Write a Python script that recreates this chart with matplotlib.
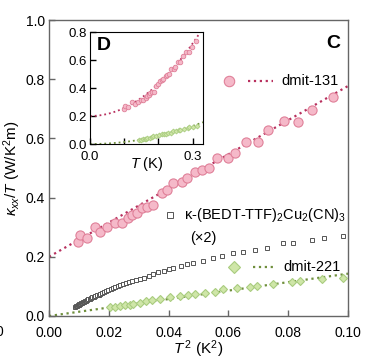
import numpy as np
import matplotlib
matplotlib.use("Agg")
from matplotlib import pyplot as plt

plt.rcParams['font.family'] = ['Liberation Sans', 'DejaVu Sans']
plt.rcParams['mathtext.fontset'] = 'custom'
plt.rcParams['mathtext.rm'] = 'Liberation Sans'
plt.rcParams['mathtext.it'] = 'Liberation Sans:italic'

# dmit-131 (T^2, kappa/T)
x131 = [0.0098, 0.0104, 0.0126, 0.0154, 0.0171, 0.0193, 0.0221, 0.0243, 0.0265,
        0.0277, 0.0293, 0.0310, 0.0327, 0.0349, 0.0377, 0.0394, 0.0416, 0.0444,
        0.0460, 0.0488, 0.0511, 0.0536, 0.0561, 0.0598, 0.0622, 0.0658, 0.0698,
        0.0734, 0.0787, 0.0832, 0.0879, 0.0951]
y131 = [0.251, 0.274, 0.262, 0.302, 0.285, 0.302, 0.313, 0.313, 0.330,
        0.341, 0.347, 0.364, 0.369, 0.375, 0.415, 0.426, 0.448, 0.454,
        0.465, 0.488, 0.493, 0.499, 0.533, 0.533, 0.550, 0.589, 0.589,
        0.628, 0.660, 0.656, 0.696, 0.739]

# kappa-(BEDT-TTF)2Cu2(CN)3, x2
xbedt = [0.0087, 0.0090, 0.0093, 0.0096, 0.0099, 0.0102, 0.0105, 0.0108, 0.0111,
         0.0114, 0.0117, 0.0120, 0.0124, 0.0128, 0.0132, 0.0136, 0.0140, 0.0145,
         0.0150, 0.0155, 0.0160, 0.0166, 0.0172, 0.0178, 0.0185, 0.0192, 0.0199,
         0.0206, 0.0214, 0.0222, 0.0230, 0.0239, 0.0248, 0.0258, 0.0268, 0.0279,
         0.0290, 0.0303, 0.0318, 0.0333, 0.0349, 0.0366, 0.0383, 0.0400, 0.0416,
         0.0440, 0.0460, 0.0483, 0.0516, 0.0550, 0.0577, 0.0617, 0.0650, 0.0689,
         0.0728, 0.0781, 0.0817, 0.0879, 0.0920, 0.0982]
ybedt = [0.031, 0.033, 0.035, 0.036, 0.038, 0.040, 0.041, 0.043, 0.045,
         0.047, 0.048, 0.050, 0.052, 0.054, 0.056, 0.058, 0.060, 0.063,
         0.065, 0.067, 0.070, 0.072, 0.075, 0.078, 0.081, 0.085, 0.088,
         0.092, 0.095, 0.099, 0.102, 0.105, 0.108, 0.112, 0.115, 0.118,
         0.121, 0.125, 0.130, 0.135, 0.142, 0.148, 0.153, 0.158, 0.163,
         0.170, 0.174, 0.180, 0.187, 0.195, 0.203, 0.212, 0.217, 0.223,
         0.231, 0.245, 0.248, 0.257, 0.262, 0.271]

# dmit-221
x221 = [0.0204, 0.0220, 0.0237, 0.0255, 0.0270, 0.0282, 0.0304, 0.0323, 0.0343,
        0.0371, 0.0405, 0.0438, 0.0466, 0.0488, 0.0522, 0.0555, 0.0583, 0.0628,
        0.0672, 0.0695, 0.0750, 0.0812, 0.0839, 0.0912, 0.0984]
y221 = [0.029, 0.031, 0.034, 0.036, 0.038, 0.040, 0.045, 0.049, 0.054,
        0.057, 0.063, 0.068, 0.071, 0.073, 0.077, 0.082, 0.090, 0.094,
        0.097, 0.101, 0.107, 0.116, 0.119, 0.124, 0.129]

# fits kappa/T = a + b T^2
fit131 = (0.20, 5.77)
fit221 = (0.0, 1.43)

pink_face = '#f5b9c9'
pink_edge = '#e08099'
pink_line = '#b8305e'
green_face = '#cfe6a8'
green_edge = '#a9cc7f'
green_line = '#6f8f3c'
spine_gray = '#666666'

fig = plt.figure(figsize=(3.72, 3.63), dpi=100)
ax = fig.add_axes([0.1317, 0.1295, 0.8038, 0.8154])

t2 = np.linspace(0, 0.1, 50)
ax.plot(t2, fit131[0] + fit131[1] * t2, ls=':', lw=1.6, color=pink_line, zorder=2)
ax.plot(t2, fit221[0] + fit221[1] * t2, ls=':', lw=1.6, color=green_line, zorder=2)
ax.plot(x131, y131, 'o', ms=6.6, mfc=pink_face, mec=pink_edge, mew=0.8, zorder=3)
ax.plot(xbedt, ybedt, 's', ms=3.4, mfc='white', mec='#555555', mew=0.7, zorder=3)
ax.plot(x221, y221, 'D', ms=4.2, mfc=green_face, mec=green_edge, mew=0.8, zorder=3)

ax.set_xlim(0, 0.1)
ax.set_ylim(0, 1.0)
ax.set_xticks([0, 0.02, 0.04, 0.06, 0.08, 0.10])
ax.set_xticklabels(['0.00', '0.02', '0.04', '0.06', '0.08', '0.10'])
ax.set_yticks([0, 0.2, 0.4, 0.6, 0.8, 1.0])
ax.set_yticklabels(['0.0', '0.2', '0.4', '0.6', '0.8', '1.0'])
ax.tick_params(direction='in', length=4, width=1, labelsize=10, color=spine_gray, pad=3)
ax.tick_params(axis='x', pad=7.5)
for s in ax.spines.values():
    s.set_color(spine_gray)
    s.set_linewidth(1.0)
ax.set_xlabel(r'$T^{\,2}$ (K$^2$)', fontsize=11, labelpad=-1.5)
ax.set_ylabel(r'$\kappa_{xx}/T$ (W/K$^2$m)', fontsize=11, labelpad=2)

ax.text(0.975, 0.922, 'C', transform=ax.transAxes, fontsize=14, fontweight='bold',
        ha='right', va='center')

# legend entries
ax.plot([0.602], [0.794], 'o', ms=7.5, mfc=pink_face, mec=pink_edge, mew=0.8,
        transform=ax.transAxes, clip_on=False)
ax.plot([0.666, 0.749], [0.794, 0.794], ls=':', lw=1.6, color=pink_line,
        transform=ax.transAxes)
ax.text(0.776, 0.794, 'dmit-131', transform=ax.transAxes, fontsize=10.5, va='center')
ax.plot([0.405], [0.341], 's', ms=5, mfc='white', mec='#555555', mew=0.7,
        transform=ax.transAxes)
ax.text(0.452, 0.341, r'κ-(BEDT-TTF)$_2$Cu$_2$(CN)$_3$', transform=ax.transAxes,
        fontsize=10.5, va='center')
ax.text(0.472, 0.264, '(×2)', transform=ax.transAxes, fontsize=10.5, va='center')
ax.plot([0.619], [0.166], 'D', ms=6, mfc=green_face, mec=green_edge, mew=0.8,
        transform=ax.transAxes)
ax.plot([0.682, 0.756], [0.166, 0.166], ls=':', lw=1.6, color=green_line,
        transform=ax.transAxes)
ax.text(0.783, 0.166, 'dmit-221', transform=ax.transAxes, fontsize=10.5, va='center')

# inset D: kappa/T vs T
axi = fig.add_axes([0.2419, 0.6033, 0.3038, 0.3085])
tt = np.linspace(0, 0.33, 60)
axi.plot(tt, fit131[0] + fit131[1] * tt ** 2, ls=':', lw=1.3, color=pink_line, zorder=2)
axi.plot(tt, fit221[0] + fit221[1] * tt ** 2, ls=':', lw=1.3, color=green_line, zorder=2)
axi.plot(np.sqrt(x131), y131, 'o', ms=3.3, mfc=pink_face, mec=pink_edge, mew=0.6, zorder=3)
axi.plot(np.sqrt(x221), y221, 'D', ms=2.5, mfc=green_face, mec=green_edge, mew=0.6, zorder=3)
axi.set_xlim(0, 0.33)
axi.set_ylim(0, 0.8)
axi.set_xticks([0, 0.1, 0.2, 0.3])
axi.set_xticklabels(['0.0', '', '', '0.3'])
axi.set_yticks([0, 0.2, 0.4, 0.6, 0.8])
axi.set_yticklabels(['0.0', '0.2', '0.4', '0.6', '0.8'])
axi.tick_params(direction='in', length=4, width=1, labelsize=9.5, pad=2)
axi.tick_params(axis='x', pad=5)
axi.set_xlabel(r'$T$ (K)', fontsize=10.5, labelpad=-6)
axi.text(0.06, 0.88, 'D', transform=axi.transAxes, fontsize=14, fontweight='bold',
         ha='left', va='center')

# cut-off label from the neighbouring panel
fig.text(-0.012, 0.086, '0', fontsize=10, ha='left', va='center')

fig.savefig('out.png', dpi=100)
